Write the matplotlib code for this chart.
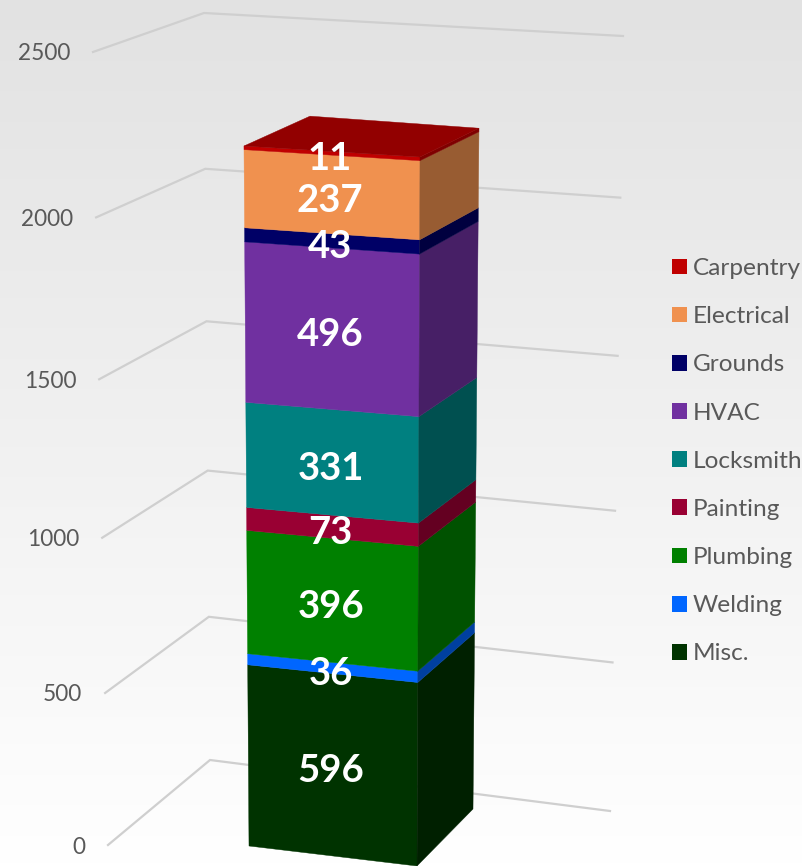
import numpy as np
import matplotlib
matplotlib.use("Agg")
import matplotlib.pyplot as plt
from matplotlib.patches import Polygon, Patch

categories = ["Misc.", "Welding", "Plumbing", "Painting", "Locksmith", "HVAC", "Grounds", "Electrical", "Carpentry"]
values = [596, 36, 396, 73, 331, 496, 43, 237, 11]
front_colors = ["#003300", "#0066FF", "#008000", "#990033", "#008080", "#7030A0", "#000066", "#F0914F", "#C00000"]
side_colors = ["#002000", "#0040A0", "#005200", "#640021", "#005050", "#471F66", "#00003F", "#985C32", "#7F0000"]
top_color = "#920000"
axis_ticks = [0, 500, 1000, 1500, 2000, 2500]

AXIS_MAX = 2500
W = 803
H = 866
WALL_PERSP = 0.9487
BAR_PERSP = 0.945

# Scene geometry: each vertical edge, from its foot at value 0 to its head at AXIS_MAX
wall_left = ((108, 845), (93, 52))
wall_corner = ((210, 760), (204, 13))
wall_right = ((610, 811), (623, 36))
bar_fl = ((249, 846), (243.3, 52.2))
bar_fr = ((417, 866), (420.4, 62))
bar_br = ((473, 809), (479.8, 37))
bar_bl = ((304, 789), (310.8, 26))


def project(edge, v, persp):
    t = v / AXIS_MAX
    f = t * persp / (1 - t + t * persp)
    (x0, y0), (x1, y1) = edge
    return (x0 + (x1 - x0) * f, y0 + (y1 - y0) * f)


fig = plt.figure(figsize=(W / 100, H / 100), dpi=100)
ax = fig.add_axes([0, 0, 1, 1])
ax.set_xlim(0, W)
ax.set_ylim(H, 0)
ax.axis("off")

gradient = np.linspace(0, 1, 256).reshape(-1, 1)
ax.imshow(gradient, extent=(0, W, H, 0), aspect="auto",
          cmap=matplotlib.colors.LinearSegmentedColormap.from_list("bg", ["#E2E2E2", "#FFFFFF"]), zorder=0)

for v in axis_ticks:
    pts = np.array([project(wall_left, v, WALL_PERSP), project(wall_corner, v, WALL_PERSP),
                    project(wall_right, v, WALL_PERSP)])
    ax.plot(pts[:, 0], pts[:, 1], color="#CFCFCF", lw=1.6, solid_joinstyle="miter", zorder=1)
    ax.text(pts[0, 0] - 23, pts[0, 1] + 2, str(v), ha="right", va="center", color="#595959",
            family="Lato", fontsize=16.3, zorder=2)

base = 0
for name, val, fc, sc in zip(categories, values, front_colors, side_colors):
    top = base + val
    front = [project(bar_fl, base, BAR_PERSP), project(bar_fr, base, BAR_PERSP),
             project(bar_fr, top, BAR_PERSP), project(bar_fl, top, BAR_PERSP)]
    side = [project(bar_fr, base, BAR_PERSP), project(bar_br, base, BAR_PERSP),
            project(bar_br, top, BAR_PERSP), project(bar_fr, top, BAR_PERSP)]
    ax.add_patch(Polygon(front, closed=True, facecolor=fc, edgecolor=fc, lw=0.3, zorder=3))
    ax.add_patch(Polygon(side, closed=True, facecolor=sc, edgecolor=sc, lw=0.3, zorder=3))
    base = top

total = base
ax.add_patch(Polygon([project(bar_fl, total, BAR_PERSP), project(bar_fr, total, BAR_PERSP),
                      project(bar_br, total, BAR_PERSP), project(bar_bl, total, BAR_PERSP)],
                     closed=True, facecolor=top_color, edgecolor=top_color, lw=0.3, zorder=3))

base = 0
for val in values:
    mid = base + val / 2
    lx, ly = project(bar_fl, mid, BAR_PERSP)
    rx, ry = project(bar_fr, mid, BAR_PERSP)
    ax.text((lx + rx) / 2 - 2, (ly + ry) / 2 + 3, str(val), ha="center", va="center_baseline", color="white",
            family="Lato", fontweight="bold", fontsize=27.5, zorder=4)
    base += val

handles = [Patch(facecolor=c, edgecolor="none", label=n) for n, c in zip(categories, front_colors)][::-1]
leg = ax.legend(handles=handles, loc="upper left", bbox_to_anchor=(672 / W, 1 - 258 / H), frameon=False,
                prop={"family": "Lato", "size": 17.6}, labelcolor="#595959", handlelength=0.614, handleheight=0.614,
                handletextpad=0.22, labelspacing=1.112, borderpad=0, borderaxespad=0)

fig.savefig("out.png", dpi=100)
